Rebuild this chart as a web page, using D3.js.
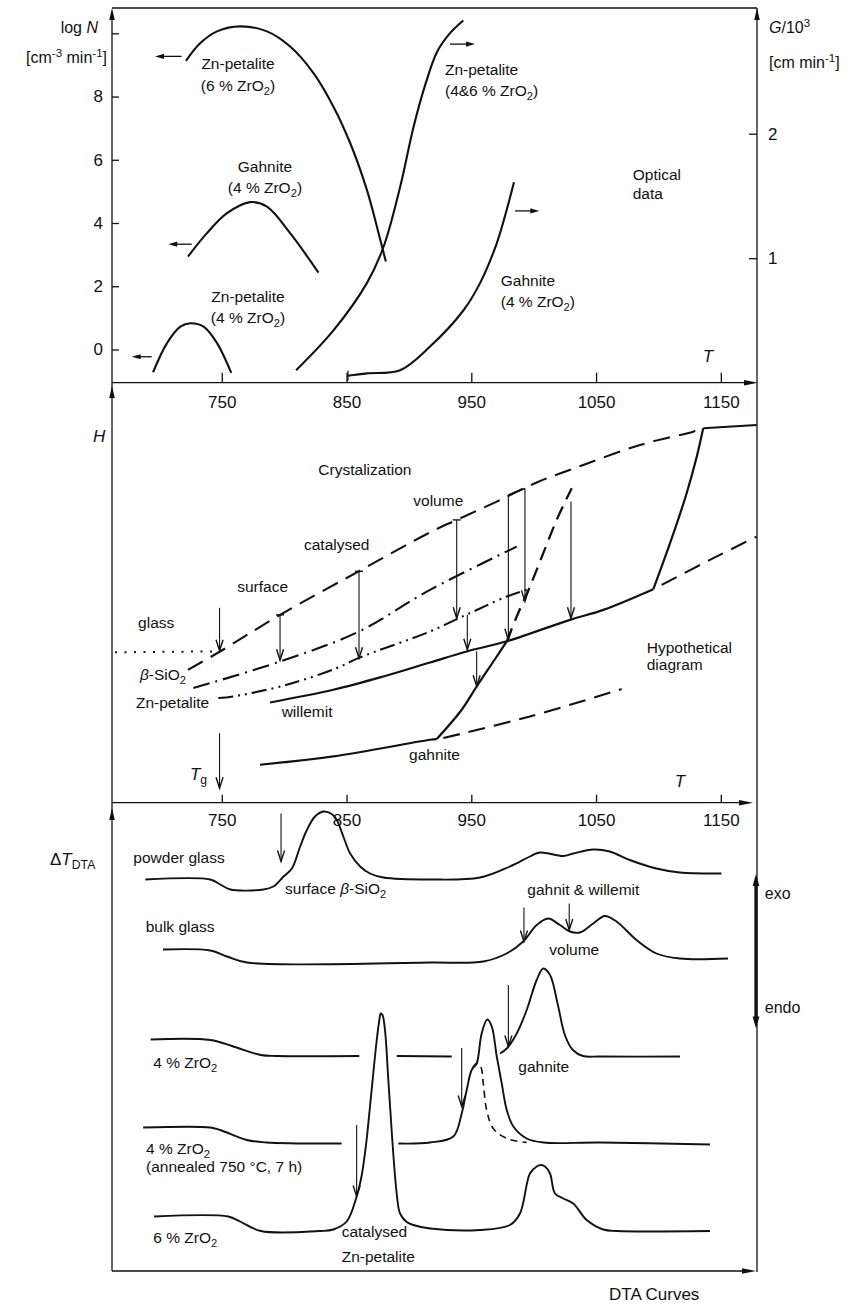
<!DOCTYPE html>
<html>
<head>
<meta charset="utf-8">
<script src="https://cdnjs.cloudflare.com/ajax/libs/d3/7.8.5/d3.min.js"></script>
<style>
body { margin: 0; background: #fff; }
svg { font-family: "Liberation Sans", Arial, Helvetica, sans-serif; }
</style>
</head>
<body>
<script>
// temperature ticks, shared by the three panels
var tTicks = [750, 850, 950, 1050, 1150];
var nTicks = [0, 2, 4, 6, 8, 10];
var gTicks = [1, 2];

// optical data: [T, log N] and [T, G/10^3]
var znPet6N = [[721.3,9.13],[732.8,9.69],[746.2,10.06],[764.8,10.22],[786.2,10.06],[804.8,9.58],[823.5,8.74],[839.5,7.68],[852.9,6.53],[866.3,5.05],[874.3,3.89],[881.5,2.78]];
var gahnN = [[722.9,2.94],[738.1,3.68],[754.2,4.31],[772.8,4.66],[786.2,4.52],[804.8,3.68],[827.5,2.43]];
var znPet4N = [[694.9,-0.72],[706.1,0.2],[716.8,0.72],[724.8,0.83],[735.4,0.72],[746.2,0.2],[757.6,-0.74]];
var znPetG = [[809.6,0.10],[839.5,0.42],[866.3,0.80],[879.6,1.09],[892.9,1.57],[903.6,2.05],[913,2.39],[922.7,2.66],[933.1,2.81],[943.6,2.91]];
var gahnG = [[851.1,0.056],[866.3,0.075],[892.9,0.10],[916.9,0.29],[943.6,0.58],[957,0.80],[970.4,1.12],[978.4,1.39],[984.2,1.61]];
// small arrows telling which axis a curve belongs to: [T from, T to, value]
var nArrows = [[717.8,696.5,9.27],[725.9,707.1,3.33],[693.8,677.8,-0.23]];
var gArrows = [[932.9,953,2.72],[985,1004.5,1.38]];

// hypothetical enthalpy diagram, H in arbitrary units
var glassH = [[664.4,30.1],[748.6,30.3]];
var liquidH = [[722.9,26.6],[748.6,30.26],[796.7,37.6],[859.4,46.26],[916.9,54.1],[938.3,56.6],[970.4,60.26],[1002.4,64.1],[1039.8,67.6],[1085.2,71.6],[1127.9,74.26],[1135.9,74.94]];
var silicaH = [[727.2,22.94],[796.7,28.26],[859.4,34.2],[916.9,42.6],[986.4,51.26]];
var znPetH = [[747.2,20.94],[759.2,21.26],[802,23.6],[842.1,26.94],[859.4,28.94],[916.9,34.26],[938.3,36.74],[947.6,37.8],[978.4,41.26],[994.4,42.6]];
var willemitH = [[788.7,20.06],[839.4,22.6],[879.5,25.26],[916.9,28.06],[946.3,30.26],[978.4,32.3],[1029.1,36.6],[1055.8,38.6],[1095.9,42.74]];
var meltH = [[1095.9,42.74],[1109.3,51.94],[1122.6,61.94],[1130.7,69.26],[1135.9,74.94]];
var liquidTopH = [[1135.9,74.94],[1178.7,75.6]];
var willemitDashH = [[1102.6,43.6],[1144,48.94],[1178.7,53.26]];
var gahnLowH = [[780.6,7.6],[839.4,9.26],[916.9,12.6],[922.3,12.74]];
var gahnRiseH = [[922.3,12.74],[942.3,18.6],[954.3,23.26],[970.4,29.26],[978.4,32.3]];
var gahnRiseDashH = [[978.4,32.3],[986.4,37.26],[997,43.26],[1007.7,49.94],[1018.4,56.6],[1030.5,62.94]];
var gahnLowDashH = [[927.6,12.94],[997,17.26],[1070.5,22.74]];
var hArrows = [[748.2,39,30.4],[748.2,13.9,2.9],[796.7,37.6,28.5],[860,46.3,28.9],[938.3,56.6,36.9],[946.8,37.6,30.6],[954.3,30.3,23.3],[979.7,61.6,32.6],[993,62.9,40.3],[1029.9,60.3,36.9]];
var stepH = [[979.7,61.6],[993,62.9]];

// DTA curves, dT in arbitrary units, curves stacked one above the other
var dtaPowder = [[688.7,78.1],[740.8,78.1],[748.8,77.1],[756.8,76.1],[783.5,76.1],[791.3,76.7],[799.5,78.7],[806.2,80.3],[812.8,84.7],[818.2,88],[824.7,90.7],[831.5,91.7],[838.1,91.2],[842.2,90],[847.4,86.7],[852.9,83.3],[860.9,80.7],[868.8,79.3],[879.5,78.5],[916.9,78.1],[957,78.5],[980.9,80.7],[997,82.7],[1005,83.5],[1023.7,82.8],[1031.7,83.3],[1047.7,84.1],[1061,83.7],[1077,82],[1098.4,80.3],[1117.1,79.5],[1150.5,79.3]];
var dtaBulk = [[702.9,64.1],[740.8,63.9],[754.2,62.7],[770.2,61.5],[916.9,61.5],[959.6,61.7],[978.3,63.3],[991.6,65.7],[1002.4,69],[1011.6,70.3],[1021,69],[1029,67.7],[1037,67.5],[1047.7,69.3],[1057,70.8],[1066.4,69.7],[1082.4,66],[1098.4,63.3],[1117.1,62.3],[1155.8,62.3]];
var dta4 = [[693,46.1],[740.8,46],[759.2,44.7],[781.2,43],[794,42.8],[860.2,42.8],[861,null],[889,null],[890.2,42.8],[934.3,42.7],[935,null],[972,null],[973,43.3],[978.4,44.3],[986.4,47.3],[994.4,52],[1002.4,58],[1007.7,60.3],[1013.1,59],[1019.4,53],[1025,47],[1031.4,44],[1039.5,42.8],[1053.2,42.7],[1117.3,42.7]];
var dta4Ann = [[687,28.5],[740.8,28.5],[748.6,28],[770,26],[786,25.5],[846.1,25.3],[847,null],[890,null],[891.5,25.3],[916.9,25.5],[935.6,26.7],[942.3,31.3],[946.3,36],[950.3,40],[954.3,41.3],[955.6,42.7],[958.3,47.3],[962.8,50.1],[966.4,48.7],[970.4,42.7],[974.4,37.3],[978.4,32],[983.7,28.7],[994.4,26.3],[1007.7,25.5],[1053.2,25.5],[1141.3,25.1]];
var dta4AnnDash = [[951,40.4],[954.3,41.3],[957.5,40.7],[959.6,37.3],[962.3,32],[967.6,28.3],[978.4,26.3],[994.4,25.5]];
var dta6 = [[695.7,10.7],[755.2,10.7],[764.6,9.7],[781.2,7.8],[828.7,7.8],[839.4,8.1],[850.1,9.7],[858.1,14.7],[862.2,19],[865.6,25],[868.8,32.7],[874.2,46],[876.3,50],[877.4,51.3],[878.8,51],[880.8,48],[883.5,38],[886.4,27],[890.2,15.3],[892.9,11.3],[898.2,9.6],[903.5,9],[916.9,8.3],[957,8],[981,9],[989,11.3],[997,19.3],[1002.4,20.7],[1005.8,21],[1009.1,20.7],[1013.1,19.3],[1017.1,15.3],[1023.7,14.3],[1031.7,13.3],[1042.5,10],[1055.8,8.1],[1066.5,7.8],[1141.3,7.8]];
var dtaArrows = [[797.5,91.3,81.7],[992.2,72.5,65.7],[1028.5,73.3,68],[979.7,57,44.7],[942.3,44.4,32.7],[858.1,29,14.7]];

var width = 860, height = 1305;
var left = 112, right = 757, topY = 8;

var svg = d3.select("body").append("svg")
    .attr("width", width)
    .attr("height", height);

var x = d3.scaleLinear().domain([662, 1179]).range([left, right]);
var yN = d3.scaleLinear().domain([-1.05, 10.8]).range([382.7, topY]);
var yG = d3.scaleLinear().domain([0, 3.01]).range([382.7, topY]);
var yH = d3.scaleLinear().domain([0, 83]).range([802.7, 388]);
var yD = d3.scaleLinear().domain([0, 92]).range([1270, 810]);

var ink = "#111";

function lineFor(ys) {
  return d3.line()
      .defined(function(d) { return d[1] != null; })
      .x(function(d) { return x(d[0]); })
      .y(function(d) { return ys(d[1]); })
      .curve(d3.curveCatmullRom.alpha(0.5));
}

function draw(data, ys, w, dash) {
  svg.append("path")
      .datum(data)
      .attr("d", lineFor(ys))
      .attr("fill", "none")
      .attr("stroke", ink)
      .attr("stroke-width", w)
      .attr("stroke-dasharray", dash || null);
}

// text with italic / sub / sup pieces
function rich(px, py, parts, anchor, size) {
  var t = svg.append("text")
      .attr("x", px).attr("y", py)
      .attr("text-anchor", anchor || "start")
      .attr("font-size", size || 15.5)
      .attr("fill", ink);
  var shift = 0;
  parts.forEach(function(p) {
    var s = typeof p === "string" ? p : p[0];
    var k = typeof p === "string" ? "" : p[1];
    var ts = t.append("tspan").text(s);
    var target = /sub/.test(k) ? 4 : /sup/.test(k) ? -6 : 0;
    if (target !== shift) { ts.attr("dy", target - shift); shift = target; }
    if (/sub|sup/.test(k)) ts.attr("font-size", "0.72em");
    if (/it/.test(k)) ts.attr("font-style", "italic");
  });
}

function tri(px, py, dir, len, hw) {
  var p;
  if (dir === "up") p = [[px, py], [px - hw, py + len], [px + hw, py + len]];
  else if (dir === "down") p = [[px, py], [px - hw, py - len], [px + hw, py - len]];
  else if (dir === "right") p = [[px, py], [px - len, py - hw], [px - len, py + hw]];
  else p = [[px, py], [px + len, py - hw], [px + len, py + hw]];
  svg.append("path").attr("d", "M" + p.join("L") + "Z").attr("fill", ink);
}

function vArrow(px, y1, y2, cap) {
  svg.append("line")
      .attr("x1", px).attr("x2", px).attr("y1", y1).attr("y2", y2)
      .attr("stroke", ink).attr("stroke-width", 1.1);
  svg.append("path")
      .attr("d", "M" + (px - 3.5) + "," + (y2 - 11) + "L" + px + "," + y2 + "L" + (px + 3.5) + "," + (y2 - 11))
      .attr("fill", "none").attr("stroke", ink).attr("stroke-width", 1.4);
  if (cap) {
    svg.append("line")
        .attr("x1", px - 4).attr("x2", px + 4).attr("y1", y1).attr("y2", y1)
        .attr("stroke", ink).attr("stroke-width", 1.4);
  }
}

function hArrow(x1, x2, py) {
  svg.append("line")
      .attr("x1", x1).attr("x2", x2 + (x2 > x1 ? -6 : 6)).attr("y1", py).attr("y2", py)
      .attr("stroke", ink).attr("stroke-width", 1.3);
  tri(x2, py, x2 > x1 ? "right" : "left", 9, 2.6);
}

// ---------- frame ----------
function seg(x1, y1, x2, y2, w) {
  svg.append("line")
      .attr("x1", x1).attr("y1", y1).attr("x2", x2).attr("y2", y2)
      .attr("stroke", ink).attr("stroke-width", w || 1.3);
}
seg(left, topY, right, topY);
seg(right, topY, right, 1272);
seg(left, topY + 6, left, 1271);
seg(left, 382.7, right - 6, 382.7);
seg(left, 802.7, right - 8, 802.7);
seg(left, 1271, right - 6, 1271);
tri(left, topY, "up", 12, 2.8);
tri(right, topY, "up", 12, 2.8);
tri(left, 386, "up", 12, 2.8);
tri(left, 808, "up", 12, 2.8);
tri(right + 1, 382.7, "right", 14, 2.8);
tri(right - 4, 802.7, "right", 14, 2.8);
tri(right - 1, 1271, "right", 14, 2.8);

// ---------- axes ----------
function styleAxis(g) {
  g.select(".domain").remove();
  g.attr("font-size", 17).attr("font-family", null);
  g.selectAll(".tick line").attr("stroke", ink).attr("stroke-width", 1.3);
  g.selectAll(".tick text").attr("fill", ink);
}

svg.append("g")
    .attr("transform", "translate(0,382.7)")
    .call(d3.axisBottom(x).tickValues(tTicks).tickFormat(d3.format("d"))
        .tickSizeInner(-10).tickSizeOuter(0).tickPadding(13))
    .call(styleAxis);

svg.append("g")
    .attr("transform", "translate(0,802.7)")
    .call(d3.axisBottom(x).tickValues(tTicks).tickFormat(d3.format("d"))
        .tickSizeInner(-8).tickSizeOuter(0).tickPadding(11))
    .call(styleAxis);

svg.append("g")
    .attr("transform", "translate(" + left + ",0)")
    .call(d3.axisLeft(yN).tickValues(nTicks).tickSizeInner(-7).tickSizeOuter(0).tickPadding(9)
        .tickFormat(function(d) { return d === 10 ? "" : d; }))
    .call(styleAxis);

svg.append("g")
    .attr("transform", "translate(" + right + ",0)")
    .call(d3.axisRight(yG).tickValues(gTicks).tickFormat(d3.format("d"))
        .tickSizeInner(-8).tickSizeOuter(0).tickPadding(11))
    .call(styleAxis);

// ---------- top panel: optical data ----------
draw(znPet6N, yN, 2.1);
draw(gahnN, yN, 2.1);
draw(znPet4N, yN, 2.1);
draw(znPetG, yG, 2.1);
draw(gahnG, yG, 2.1);
seg(x(gahnG[0][0]), yG(gahnG[0][1]) - 5, x(gahnG[0][0]), yG(gahnG[0][1]) + 5, 1.3);

nArrows.forEach(function(a) { hArrow(x(a[0]), x(a[1]), yN(a[2])); });
gArrows.forEach(function(a) { hArrow(x(a[0]), x(a[1]), yG(a[2])); });

rich(98, 33, ["log ", ["N", "it"]], "end", 16);
rich(107, 63, ["[cm", ["-3", "sup"], " min", ["-1", "sup"], "]"], "end", 16);
rich(769, 33, [["G", "it"], "/10", ["3", "sup"]], "start", 16);
rich(769, 68, ["[cm min", ["-1", "sup"], "]"], "start", 16);
rich(708, 362, [["T", "it"]], "middle", 17);

rich(x(763), yN(8.88), ["Zn-petalite"], "middle");
rich(x(763), yN(8.16), ["(6 % ZrO", ["2", "sub"], ")"], "middle");
rich(x(784.6), yN(5.62), ["Gahnite"], "middle");
rich(x(784.6), yN(4.95), ["(4 % ZrO", ["2", "sub"], ")"], "middle");
rich(x(771), yN(1.5), ["Zn-petalite"], "middle");
rich(x(771), yN(0.84), ["(4 % ZrO", ["2", "sub"], ")"], "middle");
rich(x(928.9), yG(2.47), ["Zn-petalite"]);
rich(x(928.9), yG(2.30), ["(4&6 % ZrO", ["2", "sub"], ")"]);
rich(x(1079.4), yG(1.63), ["Optical"]);
rich(x(1079.4), yG(1.475), ["data"]);
rich(x(973.6), yG(0.777), ["Gahnite"]);
rich(x(973.6), yG(0.608), ["(4 % ZrO", ["2", "sub"], ")"]);

// ---------- middle panel: hypothetical diagram ----------
var dashed = "17,9", dashDot = "17,6,2,6", dashDotDot = "15,5,2,5,2,5";
draw(glassH, yH, 2, "2,7.5");
draw(liquidH, yH, 2.1, dashed);
draw(silicaH, yH, 2.1, dashDot);
draw(znPetH, yH, 2.1, dashDotDot);
draw(willemitH, yH, 2.2);
draw(meltH, yH, 2.2);
draw(liquidTopH, yH, 2.2);
draw(willemitDashH, yH, 2.1, dashed);
draw(gahnLowH, yH, 2.2);
draw(gahnRiseH, yH, 2.2);
draw(gahnRiseDashH, yH, 2.3, "14,8");
draw(gahnLowDashH, yH, 2.1, dashed);
draw(stepH, yH, 1.5);

hArrows.forEach(function(a, i) {
  vArrow(x(a[0]), yH(a[1]), yH(a[2]), i >= 2 && i <= 4);
});

rich(93, 442, [["H", "it"]], "start", 17);
rich(680, 787, [["T", "it"]], "middle", 17);
rich(x(827.4), yH(65.6), ["Crystalization"]);
rich(x(903.5), yH(59.3), ["volume"]);
rich(x(815.9), yH(50.6), ["catalysed"]);
rich(x(762.4), yH(42.1), ["surface"]);
rich(x(682.9), yH(35), ["glass"]);
rich(x(684.4), yH(24.5), [["β", "it"], "-SiO", ["2", "sub"]]);
rich(x(681.2), yH(18.9), ["Zn-petalite"]);
rich(x(798), yH(17.1), ["willemit"]);
rich(x(900.1), yH(8.6), ["gahnite"]);
rich(x(1090.6), yH(29.9), ["Hypothetical"]);
rich(x(1090.6), yH(26.5), ["diagram"]);
rich(x(724.5), yH(4.6), [["T", "it"], ["g", "sub"]], "start", 17);

// ---------- bottom panel: DTA curves ----------
draw(dtaPowder, yD, 1.9);
draw(dtaBulk, yD, 1.9);
draw(dta4, yD, 1.9);
draw(dta4Ann, yD, 1.9);
draw(dta4AnnDash, yD, 1.6, "7,5");
draw(dta6, yD, 1.9);

dtaArrows.forEach(function(a) { vArrow(x(a[0]), yD(a[1]), yD(a[2]), false); });

// exo / endo direction marker on the right border
seg(756, yD(77), 756, yD(50.5), 3.2);
tri(756, yD(79.2), "up", 12, 3.4);
tri(756, yD(48.3), "down", 12, 3.4);

rich(50, 865, ["Δ", ["T", "it"], ["DTA", "sub"]], "start", 17);
rich(609, 1300, ["DTA Curves"], "start", 17);
rich(x(679.1), yD(81.5), ["powder glass"]);
rich(x(800.7), yD(75.2), ["surface ", ["β", "it"], "-SiO", ["2", "sub"]]);
rich(x(689), yD(67.7), ["bulk glass"]);
rich(x(994.9), yD(75), ["gahnit & willemit"]);
rich(x(1012.5), yD(63), ["volume"]);
rich(x(1185.2), yD(74.3), ["exo"], "start", 16);
rich(x(1185.2), yD(51.5), ["endo"], "start", 16);
rich(x(695.1), yD(40.5), ["4 % ZrO", ["2", "sub"]]);
rich(x(689.3), yD(23.3), ["4 % ZrO", ["2", "sub"]]);
rich(x(689.3), yD(19.7), ["(annealed 750 °C, 7 h)"]);
rich(x(695.1), yD(5.5), ["6 % ZrO", ["2", "sub"]]);
rich(x(846.1), yD(6.7), ["catalysed"]);
rich(x(846.1), yD(1.7), ["Zn-petalite"]);
rich(x(987.7), yD(39.7), ["gahnite"]);
</script>
</body>
</html>
